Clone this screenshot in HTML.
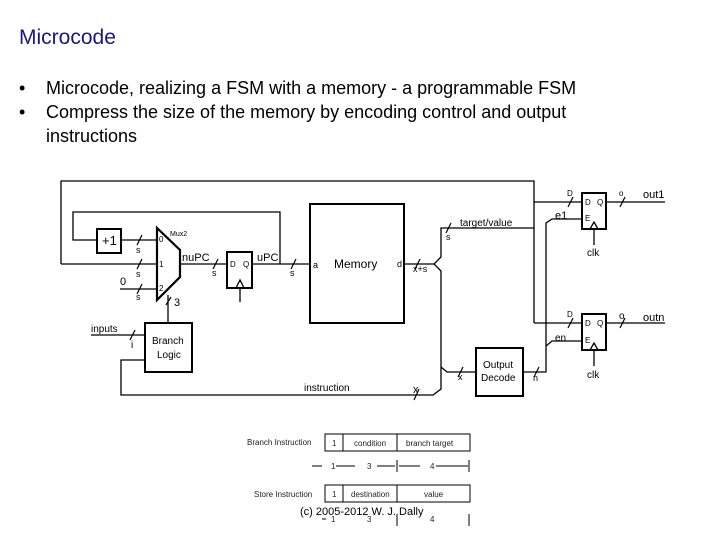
<!DOCTYPE html>
<html><head><meta charset="utf-8"><style>
body{margin:0;width:720px;height:540px;background:#fff;overflow:hidden;font-family:"Liberation Sans",sans-serif}
</style></head><body>
<svg width="720" height="540" viewBox="0 0 720 540" xmlns="http://www.w3.org/2000/svg" font-family="Liberation Sans, sans-serif">
<text x="19" y="44" font-size="21" fill="#1a1a6e">Microcode</text>
<g font-size="18" fill="#000">
<text x="19" y="94">•</text><text x="46" y="94">Microcode, realizing a FSM with a memory - a programmable FSM</text>
<text x="19" y="118">•</text><text x="46" y="118">Compress the size of the memory by encoding control and output</text>
<text x="46" y="142">instructions</text>
</g>
<g stroke="#000" fill="none" stroke-width="1.3">
<!-- outer loop -->
<polyline points="61,264 61,181 534,181 534,323"/>
<line x1="61" y1="264" x2="157" y2="264"/>
<!-- inner loop -->
<polyline points="97,240 73,240 73,212 280,212 280,264"/>
<rect x="97" y="229" width="24" height="24" stroke-width="2"/>
<line x1="121" y1="240" x2="157" y2="240"/>
<line x1="120" y1="289" x2="157" y2="289"/>
<polygon points="157,228 180,250 180,277 157,300" stroke-width="2.2"/>
<line x1="180" y1="264" x2="227" y2="264"/>
<rect x="227" y="252" width="25" height="36" stroke-width="2"/>
<polyline points="236,288 240,280 244,288"/>
<line x1="240" y1="288" x2="240" y2="302"/>
<line x1="252" y1="264" x2="310" y2="264"/>
<rect x="310" y="204" width="94" height="119" stroke-width="2"/>
<line x1="168" y1="295" x2="168" y2="323"/>
<rect x="145" y="323" width="47" height="49" stroke-width="2"/>
<line x1="91" y1="335" x2="145" y2="335"/>
<polyline points="145,360 121,360 121,395 433,395 441,389 441,271 434,264 441,257 441,228 534,228"/>
<line x1="404" y1="264" x2="434" y2="264"/>
<polyline points="441,367 447,372 476,372"/>
<rect x="476" y="348" width="47" height="48" stroke-width="2"/>
<polyline points="523,372 546,372 546,346 552,341 582,341"/>
<polyline points="546,346 546,223 552,219 582,219"/>
<line x1="534" y1="202" x2="582" y2="202"/>
<line x1="534" y1="323" x2="582" y2="323"/>
<rect x="582" y="193" width="24" height="36" stroke-width="2"/>
<rect x="582" y="314" width="24" height="36" stroke-width="2"/>
<polyline points="590,229 594,222 598,229"/><line x1="594" y1="229" x2="594" y2="245"/>
<polyline points="590,350 594,343 598,350"/><line x1="594" y1="350" x2="594" y2="366"/>
<line x1="606" y1="202" x2="665" y2="202"/>
<line x1="606" y1="323" x2="665" y2="323"/>
<!-- bus slashes -->
<g stroke-width="1.2">
<line x1="137" y1="245" x2="142" y2="235"/>
<line x1="137" y1="269" x2="142" y2="259"/>
<line x1="137" y1="294" x2="142" y2="284"/>
<line x1="213" y1="269" x2="218" y2="259"/>
<line x1="291" y1="269" x2="296" y2="259"/>
<line x1="166" y1="305" x2="171" y2="297"/>
<line x1="130" y1="340" x2="135" y2="330"/>
<line x1="415" y1="269" x2="420" y2="259"/>
<line x1="446" y1="233" x2="451" y2="223"/>
<line x1="458" y1="377" x2="463" y2="367"/>
<line x1="534" y1="377" x2="539" y2="367"/>
<line x1="414" y1="400" x2="419" y2="389"/>
<line x1="568" y1="207" x2="573" y2="197"/>
<line x1="568" y1="328" x2="573" y2="318"/>
<line x1="620" y1="207" x2="625" y2="197"/>
<line x1="620" y1="328" x2="625" y2="318"/>
</g>
</g>
<g font-size="9" fill="#000">
<text x="102" y="245" font-size="13">+1</text>
<text x="170" y="236" font-size="7">Mux2</text>
<text x="159" y="242" font-size="8">0</text><text x="159" y="267" font-size="8">1</text><text x="159" y="291" font-size="8">2</text>
<text x="136" y="253">s</text><text x="136" y="277">s</text><text x="136" y="300">s</text>
<text x="120" y="285" font-size="11">0</text>
<text x="182" y="261" font-size="11">nuPC</text>
<text x="212" y="276">s</text>
<text x="230" y="267" font-size="8">D</text><text x="243" y="267" font-size="8">Q</text>
<text x="257" y="261" font-size="11">uPC</text>
<text x="290" y="276">s</text>
<text x="313" y="268">a</text>
<text x="334" y="268" font-size="12">Memory</text>
<text x="397" y="267">d</text>
<text x="174" y="306" font-size="11">3</text>
<text x="91" y="332" font-size="10">inputs</text>
<text x="131" y="348" font-size="10">i</text>
<text x="152" y="344" font-size="10">Branch</text>
<text x="157" y="358" font-size="10">Logic</text>
<text x="304" y="391" font-size="10">instruction</text>
<text x="413" y="272">x+s</text>
<text x="446" y="240">s</text>
<text x="460" y="226" font-size="10">target/value</text>
<text x="458" y="380">x</text>
<text x="483" y="368" font-size="10">Output</text>
<text x="481" y="381" font-size="10">Decode</text>
<text x="533" y="381">n</text>
<text x="413" y="393" font-size="11">x</text>
<text x="567" y="196" font-size="8">D</text><text x="619" y="196" font-size="8">o</text>
<text x="567" y="317" font-size="8">D</text><text x="619" y="319" font-size="10">o</text>
<text x="585" y="205" font-size="8">D</text><text x="597" y="205" font-size="8">Q</text><text x="585" y="221" font-size="8">E</text>
<text x="585" y="326" font-size="8">D</text><text x="597" y="326" font-size="8">Q</text><text x="585" y="343" font-size="8">E</text>
<text x="555" y="219" font-size="11">e1</text>
<text x="555" y="341" font-size="10">en</text>
<text x="587" y="256" font-size="10">clk</text>
<text x="587" y="378" font-size="10">clk</text>
<text x="643" y="198" font-size="11">out1</text>
<text x="643" y="321" font-size="11">outn</text>
</g>
<!-- instruction formats -->
<g stroke="#000" fill="none" stroke-width="1">
<rect x="325" y="434" width="145" height="17"/><line x1="343" y1="434" x2="343" y2="451"/><line x1="397" y1="434" x2="397" y2="451"/>
<rect x="325" y="485" width="145" height="17"/><line x1="343" y1="485" x2="343" y2="502"/><line x1="397" y1="485" x2="397" y2="502"/>
<line x1="312" y1="466" x2="322" y2="466"/><line x1="336" y1="466" x2="355" y2="466"/><line x1="377" y1="466" x2="395" y2="466"/><line x1="399" y1="466" x2="420" y2="466"/><line x1="436" y1="466" x2="468" y2="466"/>
<line x1="397" y1="460" x2="397" y2="472"/><line x1="469" y1="460" x2="469" y2="472"/>
<line x1="322" y1="519" x2="326" y2="519"/><line x1="397" y1="514" x2="397" y2="526"/><line x1="469" y1="514" x2="469" y2="526"/>
</g>
<g font-size="8" fill="#222">
<text x="247" y="445">Branch Instruction</text>
<text x="332" y="446">1</text><text x="354" y="446">condition</text><text x="406" y="446">branch target</text>
<text x="331" y="469">1</text><text x="367" y="469">3</text><text x="430" y="469">4</text>
<text x="254" y="497">Store Instruction</text>
<text x="332" y="497">1</text><text x="351" y="497">destination</text><text x="424" y="497">value</text>
<text x="331" y="522">1</text><text x="367" y="522">3</text><text x="430" y="522">4</text>
</g>
<text x="300" y="515" font-size="11" fill="#000">(c) 2005-2012 W. J. Dally</text>
</svg>
</body></html>
